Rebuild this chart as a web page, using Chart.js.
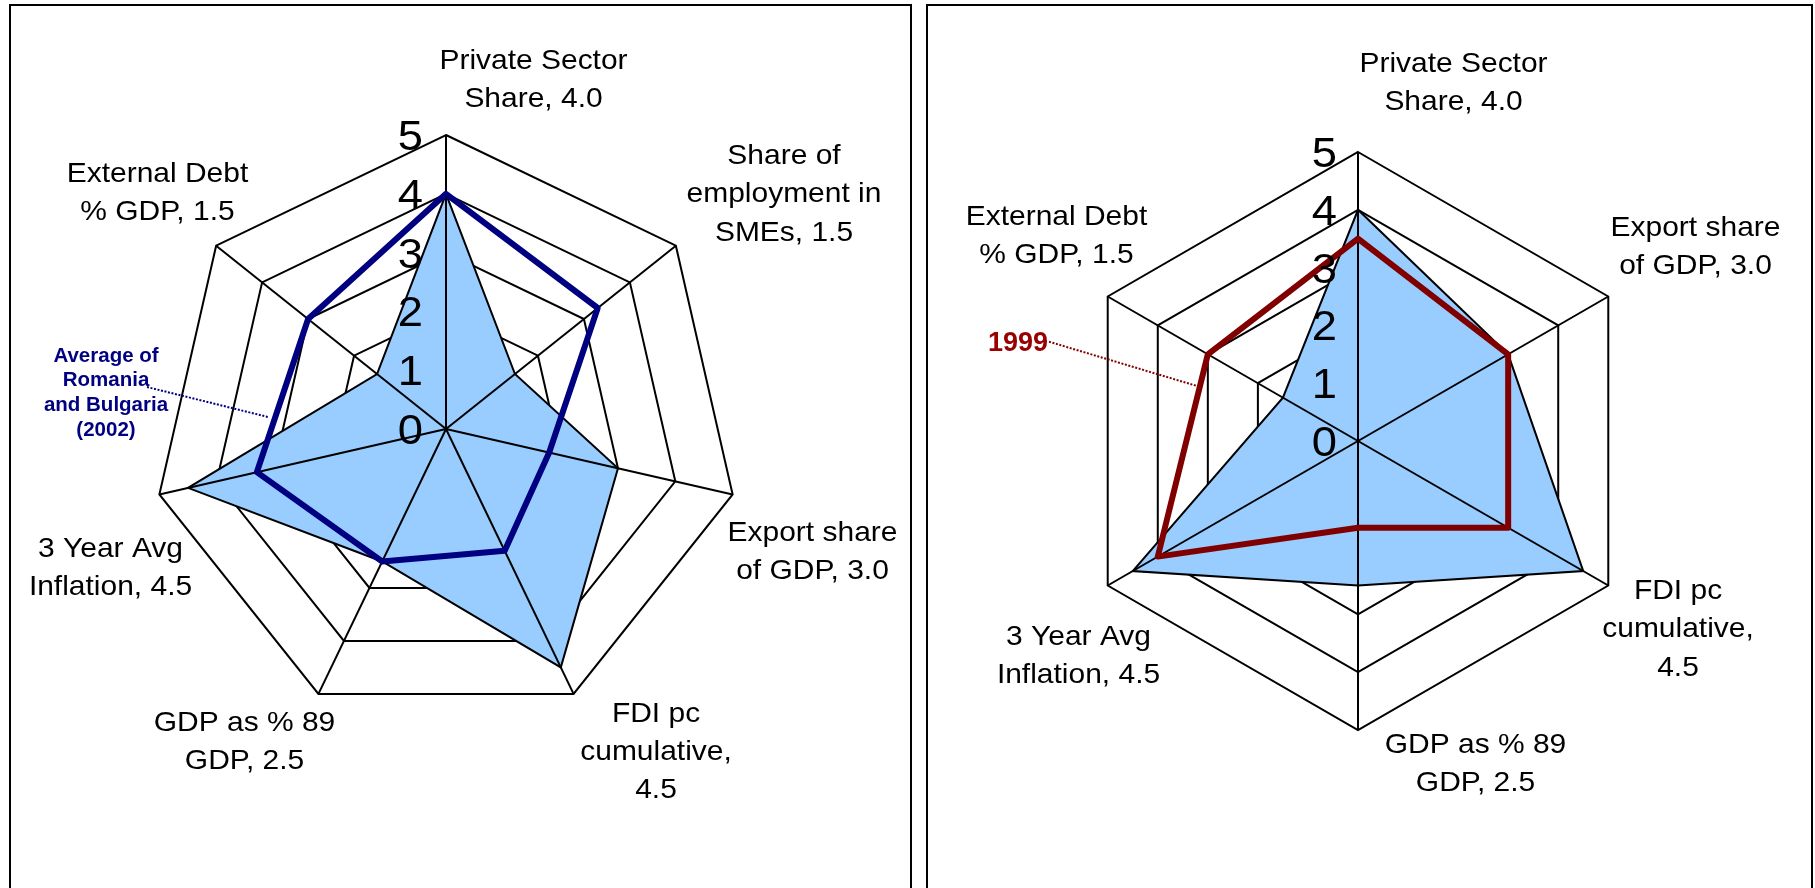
<!DOCTYPE html>
<html><head><meta charset="utf-8">
<script src="https://cdn.jsdelivr.net/npm/chart.js@4/dist/chart.umd.min.js"></script>
<style>
html,body{margin:0;padding:0;background:#fff;width:1815px;height:888px;overflow:hidden;position:relative;}
.panel{position:absolute;top:4px;border:2px solid #000;box-sizing:border-box;height:1000px;}
canvas{position:absolute;top:0;}
</style></head>
<body>
<div class="panel" style="left:9px;width:903px;"></div>
<div class="panel" style="left:926px;width:887px;"></div>
<canvas id="left" width="918" height="888" style="left:0px"></canvas>
<canvas id="right" width="897" height="888" style="left:918px"></canvas>
<script>
// ---------- data ----------
const tickValues = [0, 1, 2, 3, 4, 5];

const leftCategories = [
  ["Private Sector", "Share, 4.0"],
  ["Share of", "employment in", "SMEs, 1.5"],
  ["Export share", "of GDP, 3.0"],
  ["FDI pc", "cumulative,", "4.5"],
  ["GDP as % 89", "GDP, 2.5"],
  ["3 Year Avg", "Inflation, 4.5"],
  ["External Debt", "% GDP, 1.5"]
];
const leftCountry = [4.0, 1.5, 3.0, 4.5, 2.5, 4.5, 1.5];
const leftAverage2002 = [4.0, 3.3, 1.8, 2.3, 2.5, 3.3, 3.0];
const leftAnnotation = ["Average of", "Romania", "and Bulgaria", "(2002)"];

const rightCategories = [
  ["Private Sector", "Share, 4.0"],
  ["Export share", "of GDP, 3.0"],
  ["FDI pc", "cumulative,", "4.5"],
  ["GDP as % 89", "GDP, 2.5"],
  ["3 Year Avg", "Inflation, 4.5"],
  ["External Debt", "% GDP, 1.5"]
];
const rightCountry = [4.0, 3.0, 4.5, 2.5, 4.5, 1.5];
const right1999 = [3.5, 3.0, 3.0, 1.5, 4.0, 3.0];
const rightAnnotation = ["1999"];

// ---------- layout / style ----------
const FONT = '"Liberation Sans", Arial, sans-serif';
const LABEL_SIZE = 28, LABEL_LINE = 38.4, LABEL_SX = 1.07;
const TICK_SIZE = 42, TICK_SX = 1.08;

// label anchor offsets from the radar centre: [dx of text centre, dy of first baseline]
const leftLabelOffsets = [[87.5,-360.5],[338,-265],[366.5,111.5],[210,292.5],[-201.5,301.5],[-335.5,128],[-288.5,-247]];
const rightLabelOffsets = [[95.5,-369],[337.5,-205],[320,158],[117.5,312],[-279.5,203.5],[-301.5,-216]];

function drawText(ctx, text, x, y, font, color, align, sx) {
  ctx.save();
  ctx.translate(x, y);
  ctx.scale(sx, 1);
  ctx.font = font;
  ctx.fillStyle = color;
  ctx.textAlign = align;
  ctx.textBaseline = 'alphabetic';
  ctx.fillText(text, 0, 0);
  ctx.restore();
}

function makePlugin(cfg) {
  return {
    id: 'radarDecor_' + cfg.id,
    afterDatasetDraw(chart, args) {
      if (args.index !== 0) return;           // spokes drawn just above the filled series
      const s = chart.scales.r, ctx = chart.ctx;
      const R = s.getDistanceFromCenterForValue(s.max);
      ctx.save();
      ctx.strokeStyle = '#000';
      ctx.lineWidth = 2;
      for (let i = 0; i < chart.data.labels.length; i++) {
        const p = s.getPointPosition(i, R);
        ctx.beginPath();
        ctx.moveTo(s.xCenter, s.yCenter);
        ctx.lineTo(p.x, p.y);
        ctx.stroke();
      }
      ctx.restore();
    },
    afterDraw(chart) {
      const s = chart.scales.r, ctx = chart.ctx;
      const cx = s.xCenter, cy = s.yCenter;
      // tick labels
      tickValues.forEach(v => {
        const y = cy - s.getDistanceFromCenterForValue(v);
        drawText(ctx, String(v), cx - cfg.tickGap, y + TICK_SIZE * 0.358,
          TICK_SIZE + 'px ' + FONT, '#000', 'right', TICK_SX);
      });
      // category labels
      cfg.categories.forEach((lines, i) => {
        const [dx, dy] = cfg.labelOffsets[i];
        lines.forEach((ln, j) => {
          drawText(ctx, ln, cx + dx, cy + dy + j * LABEL_LINE,
            LABEL_SIZE + 'px ' + FONT, '#000', 'center', LABEL_SX);
        });
      });
      // series annotation + dotted leader
      const a = cfg.annotation;
      a.lines.forEach((ln, j) => {
        drawText(ctx, ln, cx + a.dx, cy + a.dy + j * a.lineH,
          'bold ' + a.size + 'px ' + FONT, a.color, 'center', 1);
      });
      ctx.save();
      ctx.strokeStyle = a.lineColor;
      ctx.lineWidth = 2;
      ctx.setLineDash([2, 1.6]);
      ctx.beginPath();
      ctx.moveTo(cx + a.leader[0], cy + a.leader[1]);
      ctx.lineTo(cx + a.leader[2], cy + a.leader[3]);
      ctx.stroke();
      ctx.restore();
    }
  };
}

function buildRadar(canvasId, cfg) {
  return new Chart(document.getElementById(canvasId), {
    type: 'radar',
    data: {
      labels: cfg.categories.map(l => l.join(' ')),
      datasets: [
        {
          label: 'Country',
          data: cfg.fillValues,
          order: 2,
          fill: true,
          backgroundColor: '#99CCFF',
          borderColor: '#000000',
          borderWidth: 2,
          pointRadius: 0,
          tension: 0
        },
        {
          label: cfg.lineLabel,
          data: cfg.lineValues,
          order: 1,
          fill: false,
          borderColor: cfg.lineColor,
          borderWidth: 6,
          borderJoinStyle: 'round',
          pointRadius: 0,
          tension: 0
        }
      ]
    },
    options: {
      responsive: false,
      animation: false,
      devicePixelRatio: 1,
      layout: { padding: cfg.padding },
      plugins: { legend: { display: false }, tooltip: { enabled: false } },
      scales: {
        r: {
          min: 0, max: 5,
          ticks: { display: false, stepSize: 1 },
          pointLabels: { display: false },
          grid: { color: '#000', lineWidth: 2, circular: false },
          angleLines: { display: false }
        }
      }
    },
    plugins: [makePlugin(cfg)]
  });
}

buildRadar('left', {
  id: 'left',
  categories: leftCategories,
  fillValues: leftCountry,
  lineValues: leftAverage2002,
  lineLabel: 'Average of Romania and Bulgaria (2002)',
  lineColor: '#000080',
  labelOffsets: leftLabelOffsets,
  tickGap: 23,
  padding: { left: 152, top: 135, right: 178, bottom: 165 },
  annotation: {
    lines: leftAnnotation, dx: -340, dy: -67.3, lineH: 24.6, size: 20.5,
    color: '#000080', lineColor: '#000080',
    leader: [-299, -42, -178, -12]
  }
});

buildRadar('right', {
  id: 'right',
  categories: rightCategories,
  fillValues: rightCountry,
  lineValues: right1999,
  lineLabel: '1999',
  lineColor: '#800000',
  labelOffsets: rightLabelOffsets,
  tickGap: 21,
  padding: { left: 151, top: 152, right: 168, bottom: 158 },
  annotation: {
    lines: rightAnnotation, dx: -340, dy: -90.3, lineH: 24, size: 27,
    color: '#990000', lineColor: '#800000',
    leader: [-309, -99.3, -161, -55]
  }
});
</script>
</body></html>
